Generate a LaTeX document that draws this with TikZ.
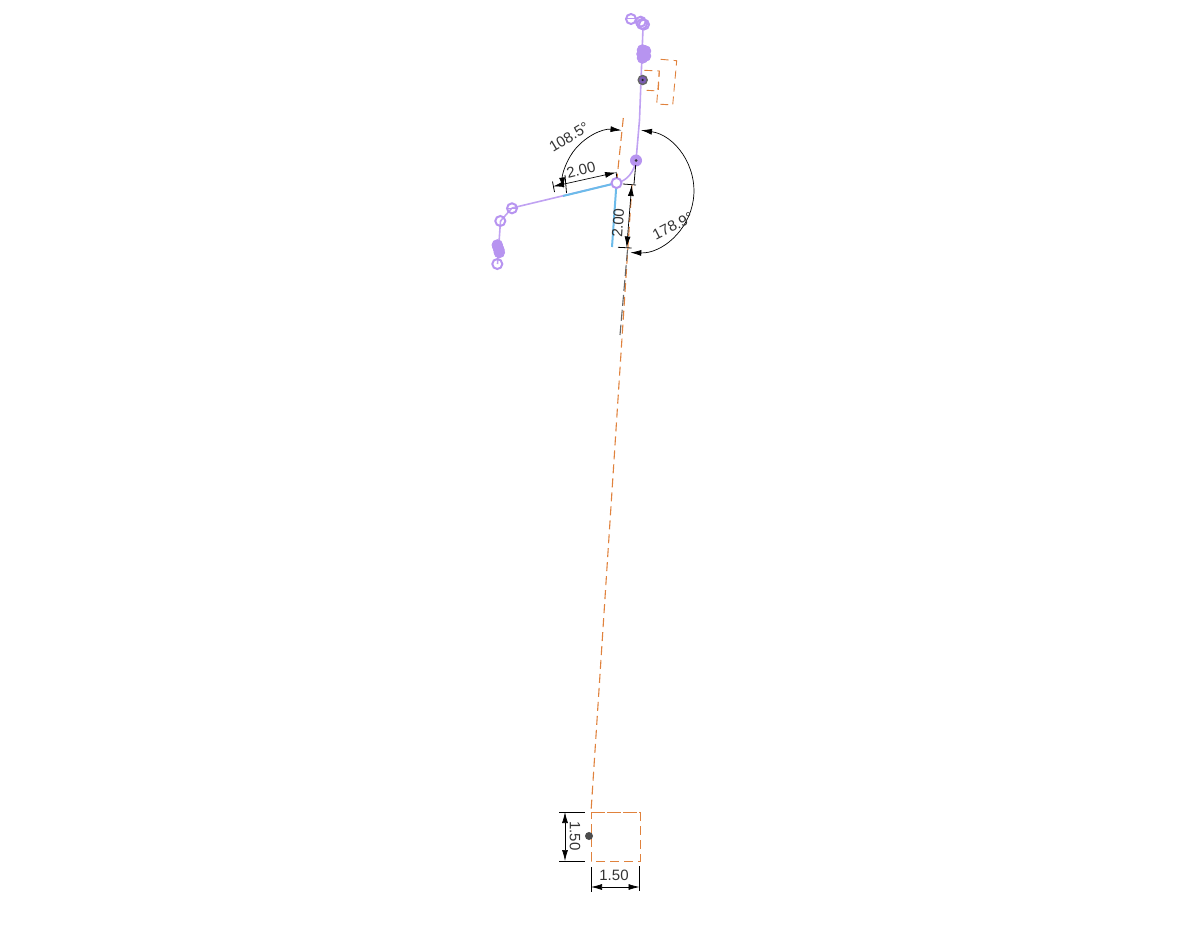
\documentclass[tikz,border=0pt]{standalone}
\usepackage{fontspec}
\setmainfont{Liberation Sans}
\usetikzlibrary{arrows.meta}
\definecolor{pathpurple}{HTML}{B794F0}
\definecolor{pathlight}{HTML}{C0A2F2}
\definecolor{legblue}{HTML}{6CBBEA}
\definecolor{guideorange}{HTML}{E0823D}
\definecolor{dotpurple}{HTML}{7A5BB5}
\tikzset{
    ptopen/.style={circle,draw=pathpurple,line width=2pt,inner sep=0pt,minimum size=10pt},
    ptfull/.style={circle,fill=pathpurple,draw=pathpurple,line width=1pt,inner sep=0pt,minimum size=10.5pt},
    dimlabel/.style={font=\fontsize{15}{18}\selectfont,text=black!80,inner sep=0pt},
    dimline/.style={draw=black,line width=0.7pt,{Latex[length=11pt,width=6pt]}-{Latex[length=11pt,width=6pt]}},
    dimtick/.style={draw=black,line width=0.8pt},
    guide/.style={draw=guideorange,line width=1.1pt,dash pattern=on 9pt off 5pt},
    pathline/.style={draw=pathlight,line width=1.6pt},
    legline/.style={draw=legblue,line width=2pt}
}

\begin{document}
\begin{tikzpicture}[x=1pt,y=-1pt]
    \useasboundingbox (0,0) rectangle (1200,934);

    % fixed points
    \coordinate (base) at (636,160.5);
    \coordinate (hip) at (616.5,183);
    \coordinate (legL) at (563,196);
    \coordinate (legD) at (612,247);
    \coordinate (upper) at (639.5,120);
    \coordinate (guideT) at (623.3,118);
    \coordinate (guideS) at (632,185);
    \coordinate (boxA) at (591,812);
    \coordinate (boxB) at (640,812);
    \coordinate (boxC) at (640,861);
    \coordinate (boxD) at (591,861);

    % path
    \path [pathline] (643,28) edge (upper);
    \path [pathline] (upper) edge (base);
    \draw [pathline] (base) .. controls (634,172) and (627,181) .. (hip);
    \path [pathline] (hip) edge (512,208);
    \path [pathline] (512,208) edge (500.5,221);
    \path [pathline] (500.5,221) edge (497.5,264);
    \path [legline] (hip) edge (legL);
    \path [legline] (hip) edge (legD);

    % orange guides
    \path [guide] (guideT) edge (hip);
    \path [guide] (guideS) edge (boxA);
    \draw [guide,line width=0.9pt,dash pattern=on 14pt off 2pt] (boxA) -- (boxB);
    \draw [guide,line width=0.9pt] (boxB) -- (boxC) -- (boxD) -- (boxA);
    \draw [guide,line width=0.9pt,dash pattern=on 8pt off 5pt] (644.3,70.3) -- (659.3,71) -- (658.3,91) -- (646.7,90.3);
    \draw [guide,line width=0.9pt,dash pattern=on 8pt off 5pt] (660.7,59.3) -- (676.7,60.7) -- (672.7,105) -- (656.7,104) -- (659.3,71);

    % gray reference line
    \path [draw=black!60,line width=1.1pt,dash pattern=on 11pt off 4pt] (627.5,250) edge (620,335);

    \begin{scope}[every node/.style={ptfull}]
        \node (p1) at (642.5,50) {};
        \node (p2) at (645.5,51) {};
        \node (p3) at (642,54) {};
        \node (p4) at (645.5,56) {};
        \node (p5) at (642.5,58) {};
        \node (c1) at (497.3,245) {};
        \node (c2) at (498,247.5) {};
        \node (c3) at (499,250) {};
        \node (c4) at (499.3,252.5) {};
    \end{scope}
    \begin{scope}[every node/.style={ptopen}]
        \node (t1) at (631,19) {};
        \node (t2) at (640.7,21.7) {};
        \node (t3) at (642,24) {};
        \node (t4) at (644,24.5) {};
        \node [fill=white] (h) at (hip) {};
        \node (l1) at (512,208.3) {};
        \node (l2) at (500.3,221) {};
        \node (l3) at (497.3,264) {};
    \end{scope}
    \path [draw=pathpurple,line width=1pt] (626,19) edge (636,19);
    \path [draw=pathpurple,line width=1pt] (507,208.3) edge (517,208.3);

    % pivots
    \node [circle,fill=pathpurple,inner sep=0pt,minimum size=12pt] (pivot) at (base) {};
    \node [circle,fill=black!80,inner sep=0pt,minimum size=3pt] (pivotc) at (base) {};
    \node [circle,fill=dotpurple,draw=black!60,line width=1.4pt,inner sep=0pt,minimum size=9pt] (head) at (642.7,80) {};
    \node [circle,fill=black!85,inner sep=0pt,minimum size=2.5pt] (headc) at (head) {};
    \node [circle,fill=black!70,inner sep=0pt,minimum size=8pt] (anchor) at (589,836) {};

    % dimensions top
    \coordinate (d1a) at (553,186.5);
    \coordinate (d1b) at (616,172.5);
    \draw [dimline] (d1a) -- (d1b);
    \path [dimtick] (552.5,181.5) edge (554.5,192);
    \path [dimtick] (565,175) edge (566.5,193);
    \path [dimtick] (616,172) edge (617,178);
    \coordinate (d2a) at (631.7,185);
    \coordinate (d2b) at (626.7,247.5);
    \draw [dimline] (d2a) -- (d2b);
    \path [dimtick] (623,184) edge (636,185);
    \path [dimtick] (618,247.3) edge (631.7,248);
    \path [dimtick] (635.7,165) edge (634,184);
    \draw [dimline] (621.5,130.3) arc[start angle=84,end angle=186,radius=53pt];
    \draw [dimline] (641,130.2) arc[start angle=82,end angle=-92,radius=61.5pt];
    \node [dimlabel,rotate=31] (ang1) at (569,137) {108.5°};
    \node [dimlabel,rotate=27] (ang2) at (673,226) {178.9°};
    \node [dimlabel,rotate=14] (len1) at (581,170) {2.00};
    \node [dimlabel,rotate=86] (len2) at (618,223) {2.00};

    % dimensions bottom
    \coordinate (d3a) at (565,812);
    \coordinate (d3b) at (565,861);
    \draw [dimline] (d3a) -- (d3b);
    \path [dimtick] (559,812) edge (585,812);
    \path [dimtick] (559,861) edge (585,861);
    \coordinate (d4a) at (591,887);
    \coordinate (d4b) at (639.5,887);
    \draw [dimline] (d4a) -- (d4b);
    \path [dimtick] (591,867) edge (591,892);
    \path [dimtick] (639.5,866) edge (639.5,891);
    \node [dimlabel,rotate=-90] (len3) at (575,836) {1.50};
    \node [dimlabel] (len4) at (614,875) {1.50};
\end{tikzpicture}
\end{document}
